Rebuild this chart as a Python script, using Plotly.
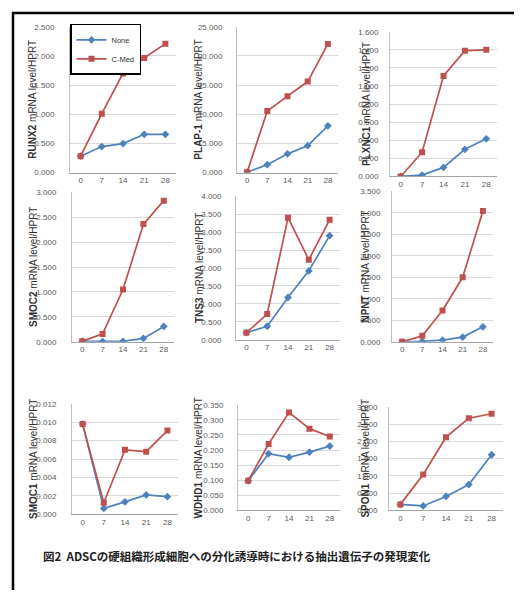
import plotly.graph_objects as go
from plotly.subplots import make_subplots

days = ["0", "7", "14", "21", "28"]

genes = ["RUNX2", "PLAP-1", "PLXNC1", "SMOC2", "TNS3", "NPNT", "SMOC1", "WDHD1", "SPON1"]

none_runx2 = [0.28, 0.445, 0.495, 0.655, 0.655]
cmed_runx2 = [0.28, 1.01, 1.70, 1.965, 2.21]
none_plap1 = [0.05, 1.35, 3.2, 4.6, 8.0]
cmed_plap1 = [0.05, 10.55, 13.1, 15.6, 22.05]
none_plxnc1 = [0.0, 0.015, 0.10, 0.30, 0.416]
cmed_plxnc1 = [0.0, 0.268, 1.11, 1.39, 1.40]
none_smoc2 = [0.01, 0.005, 0.01, 0.07, 0.31]
cmed_smoc2 = [0.01, 0.16, 1.05, 2.36, 2.83]
none_tns3 = [0.20, 0.38, 1.18, 1.92, 2.90]
cmed_tns3 = [0.20, 0.72, 3.40, 2.23, 3.34]
none_npnt = [0.0, 0.01, 0.04, 0.11, 0.35]
cmed_npnt = [0.0, 0.14, 0.73, 1.50, 3.04]
none_smoc1 = [0.0098, 0.00063, 0.00134, 0.0021, 0.0019]
cmed_smoc1 = [0.0098, 0.00125, 0.0070, 0.0068, 0.0091]
none_wdhd1 = [0.098, 0.188, 0.176, 0.193, 0.213]
cmed_wdhd1 = [0.098, 0.22, 0.325, 0.271, 0.245]
none_spon1 = [0.17, 0.125, 0.40, 0.745, 1.61]
cmed_spon1 = [0.17, 1.04, 2.12, 2.67, 2.80]

none_series = [none_runx2, none_plap1, none_plxnc1, none_smoc2, none_tns3,
               none_npnt, none_smoc1, none_wdhd1, none_spon1]
cmed_series = [cmed_runx2, cmed_plap1, cmed_plxnc1, cmed_smoc2, cmed_tns3,
               cmed_npnt, cmed_smoc1, cmed_wdhd1, cmed_spon1]

y_max = [2.5, 25, 1.6, 3.0, 4.0, 3.5, 0.012, 0.35, 3.0]
y_step = [0.5, 5, 0.2, 0.5, 0.5, 0.5, 0.002, 0.05, 0.5]

caption = "図2  ADSCの硬組織形成細胞への分化誘導時における抽出遺伝子の発現変化"

# page has the browser's default 8px body margin: the figure starts at (8, 8)
OFF = 8
W, H = 522 - OFF, 595 - OFF


def px(x):
    return (x - OFF) / W


def py(y):
    return 1 - (y - OFF) / H


# plot-area boxes in page pixels: (left, right, top, bottom)
boxes = [
    (70, 176, 23, 171), (237, 338, 23, 171), (390, 497, 28, 175),
    (72, 174, 191, 343), (236, 340, 195, 341), (392, 493, 190, 343),
    (72, 178, 406, 518), (238, 340, 407, 514), (389, 503, 409, 514),
]
title_x = [33, 199, 366]
label_gap = [13, 12, 9]

BLUE = "#4F81BD"
RED = "#C0504D"
FONT = "Arial, Liberation Sans, sans-serif"

fig = make_subplots(rows=3, cols=3)

for i in range(9):
    r, c = i // 3 + 1, i % 3 + 1
    fig.add_trace(go.Scatter(
        x=days, y=none_series[i], mode="lines+markers", name="None",
        line=dict(color=BLUE, width=1.7),
        marker=dict(symbol="diamond", size=6, color=BLUE),
        showlegend=(i == 0)), row=r, col=c)
    fig.add_trace(go.Scatter(
        x=days, y=cmed_series[i], mode="lines+markers", name="C-Med",
        line=dict(color=RED, width=1.7),
        marker=dict(symbol="square", size=6, color=RED),
        showlegend=(i == 0)), row=r, col=c)

for i in range(9):
    L, R, T, B = boxes[i]
    sfx = "" if i == 0 else str(i + 1)
    fig.layout["xaxis" + sfx].update(
        domain=[px(L), px(R)], type="category", range=[-0.5, 4.5],
        showgrid=False, showline=True, linecolor="#a6a6a6", linewidth=1,
        ticks="", tickfont=dict(size=8, color="#595959", family=FONT),
        fixedrange=True)
    fig.layout["yaxis" + sfx].update(
        domain=[py(B), py(T)], range=[0, y_max[i]], dtick=y_step[i],
        tick0=0, tickformat=".3f", showgrid=True, gridcolor="#d9d9d9",
        gridwidth=1, zeroline=False, showline=True, linecolor="#bfbfbf",
        ticks="", ticklabelstandoff=label_gap[i % 3],
        tickfont=dict(size=8, color="#595959", family=FONT),
        fixedrange=True)
    fig.add_annotation(
        x=px(title_x[i % 3]), y=py((T + B) / 2), xref="paper", yref="paper",
        text="<b>" + genes[i] + "</b> mRNA level/HPRT", textangle=-90,
        showarrow=False, font=dict(size=10, color="#333333", family=FONT),
        xanchor="center", yanchor="middle")

fig.add_annotation(
    x=px(237), y=py(560), xref="paper", yref="paper", text="<b>" + caption + "</b>",
    showarrow=False, font=dict(size=11.5, color="#222222", family="Noto Sans CJK JP"),
    xanchor="center", yanchor="middle")

# frame lines (top and left), as close to the page top as the figure allows
fig.add_shape(type="line", xref="paper", yref="paper", x0=px(12), x1=px(521),
              y0=py(9), y1=py(9), line=dict(color="black", width=2.5))
fig.add_shape(type="line", xref="paper", yref="paper", x0=px(13), x1=px(13),
              y0=py(8), y1=0, line=dict(color="black", width=2.5))

fig.update_layout(
    width=W, height=H, margin=dict(l=0, r=0, t=0, b=0),
    paper_bgcolor="white", plot_bgcolor="white",
    font=dict(family=FONT),
    legend=dict(x=px(70), y=py(20), xanchor="left", yanchor="top",
                bgcolor="white", bordercolor="black", borderwidth=1.5,
                font=dict(size=7.5, color="#333333", family=FONT),
                itemwidth=30, tracegroupgap=0, traceorder="normal"),
)

fig.write_html("out.html", config={"displayModeBar": False})
